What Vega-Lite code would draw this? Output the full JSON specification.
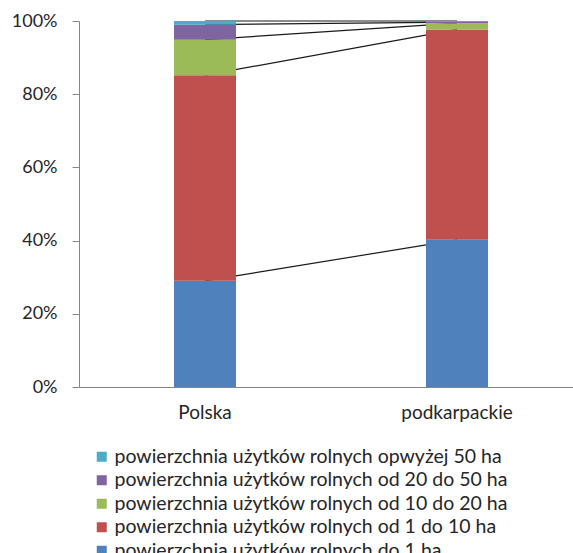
{
  "$schema": "https://vega.github.io/schema/vega-lite/v6.json",
  "width": 504,
  "height": 366,
  "autosize": {"type": "none"},
  "padding": {"left": 79, "top": 21, "right": 0, "bottom": 166},
  "background": "white",
  "config": {"view": {"stroke": null}, "font": "Lato"},
  "data": {"values": [
    {"region": "Polska", "series": "powierzchnia użytków rolnych do 1 ha", "order": 1, "value": 29.0},
    {"region": "Polska", "series": "powierzchnia użytków rolnych od 1 do 10 ha", "order": 2, "value": 56.2},
    {"region": "Polska", "series": "powierzchnia użytków rolnych od 10 do 20 ha", "order": 3, "value": 9.7},
    {"region": "Polska", "series": "powierzchnia użytków rolnych od 20 do 50 ha", "order": 4, "value": 4.1},
    {"region": "Polska", "series": "powierzchnia użytków rolnych opwyżej 50 ha", "order": 5, "value": 1.0},
    {"region": "podkarpackie", "series": "powierzchnia użytków rolnych do 1 ha", "order": 1, "value": 40.2},
    {"region": "podkarpackie", "series": "powierzchnia użytków rolnych od 1 do 10 ha", "order": 2, "value": 57.5},
    {"region": "podkarpackie", "series": "powierzchnia użytków rolnych od 10 do 20 ha", "order": 3, "value": 1.7},
    {"region": "podkarpackie", "series": "powierzchnia użytków rolnych od 20 do 50 ha", "order": 4, "value": 0.3},
    {"region": "podkarpackie", "series": "powierzchnia użytków rolnych opwyżej 50 ha", "order": 5, "value": 0.3}
  ]},
  "transform": [
    {"stack": "value", "groupby": ["region"], "sort": [{"field": "order", "order": "ascending"}], "as": ["y0", "y1"], "offset": "normalize"}
  ],
  "encoding": {
    "x": {
      "field": "region", "type": "nominal", "sort": ["Polska", "podkarpackie"],
      "scale": {"paddingInner": 0.754, "paddingOuter": 0.377},
      "axis": {"title": null, "labelAngle": 0, "ticks": false, "domainColor": "#868686", "labelFontSize": 19, "labelColor": "#262626", "labelPadding": 16}
    }
  },
  "layer": [
    {
      "mark": {"type": "line", "color": "#1a1a1a", "strokeWidth": 1.2},
      "encoding": {
        "y": {"field": "y1", "type": "quantitative", "scale": {"domain": [0, 1]},
          "axis": {"title": null, "format": ".0%", "values": [0, 0.2, 0.4, 0.6, 0.8, 1], "grid": false, "domainColor": "#868686", "tickColor": "#868686", "tickSize": 7, "labelPadding": 15, "labelFontSize": 18, "labelColor": "#262626"}},
        "detail": {"field": "series"}
      }
    },
    {
      "mark": {"type": "bar"},
      "encoding": {
        "y": {"field": "y0", "type": "quantitative"},
        "y2": {"field": "y1"},
        "color": {
          "field": "series", "type": "nominal",
          "scale": {
            "domain": ["powierzchnia użytków rolnych opwyżej 50 ha", "powierzchnia użytków rolnych od 20 do 50 ha", "powierzchnia użytków rolnych od 10 do 20 ha", "powierzchnia użytków rolnych od 1 do 10 ha", "powierzchnia użytków rolnych do 1 ha"],
            "range": ["#4BACC6", "#8064A2", "#9BBB59", "#C0504D", "#4F81BD"]
          },
          "legend": {"title": null, "orient": "none", "legendX": 13, "legendY": 426, "symbolType": "square", "symbolSize": 100, "symbolStrokeWidth": 0, "labelFontSize": 19.5, "labelColor": "#262626", "labelLimit": 600, "rowPadding": 2.5, "labelOffset": 3}
        }
      }
    }
  ]
}
